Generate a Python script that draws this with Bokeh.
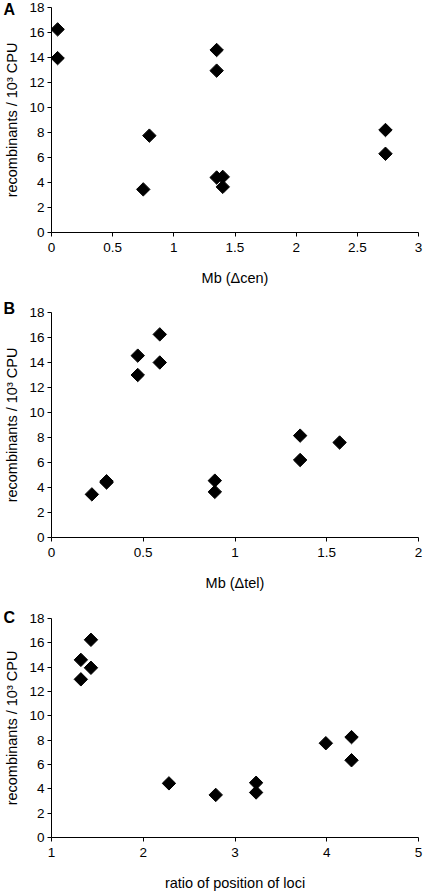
import numpy as np
from bokeh.plotting import figure
from bokeh.layouts import column
from bokeh.models import Range1d, FixedTicker, Title
from bokeh.embed import file_html
from bokeh.resources import INLINE

# ---- data ----
a_x = [0.05, 0.05, 1.35, 1.35, 0.80, 0.75, 1.35, 1.40, 1.40, 2.73, 2.73]
a_y = [16.25, 13.95, 14.6, 12.95, 7.75, 3.45, 4.4, 4.45, 3.65, 8.2, 6.3]

b_x = [0.22, 0.30, 0.30, 0.47, 0.47, 0.59, 0.59, 0.89, 0.89, 1.355, 1.355, 1.57]
b_y = [3.45, 4.4, 4.5, 14.55, 13.0, 16.25, 14.0, 4.55, 3.65, 8.15, 6.2, 7.6]

c_x = [1.32, 1.43, 1.43, 1.32, 2.28, 2.79, 3.23, 3.23, 3.99, 4.27, 4.27]
c_y = [14.6, 16.25, 13.95, 13.0, 4.45, 3.5, 4.5, 3.7, 7.75, 8.25, 6.35]

y_ticks = [0, 2, 4, 6, 8, 10, 12, 14, 16, 18]
a_ticks = [0, 0.5, 1, 1.5, 2, 2.5, 3]
a_tick_labels = ["0", "0.5", "1", "1.5", "2", "2.5", "3"]
b_ticks = [0, 0.5, 1, 1.5, 2]
b_tick_labels = ["0", "0.5", "1", "1.5", "2"]
c_ticks = [1, 2, 3, 4, 5]
c_tick_labels = ["1", "2", "3", "4", "5"]

y_label = "recombinants / 10\u00b3 CPU"
FONT = "Liberation Sans"

FRAME_H = 225
BORDER_L = 51
BORDER_R = 6
WIDTH = 424


def panel(xs, ys, xr, xticks, xlabels, xlabel, letter, top, bottom, standoff):
    p = figure(width=WIDTH, height=top + FRAME_H + bottom,
               output_backend="svg", toolbar_location=None,
               x_range=Range1d(*xr), y_range=Range1d(0, 18),
               min_border_left=BORDER_L, min_border_right=BORDER_R,
               min_border_top=top, min_border_bottom=bottom)
    p.outline_line_color = None
    p.grid.visible = False
    p.background_fill_color = "white"
    p.border_fill_color = "white"
    for ax in (p.xaxis[0], p.yaxis[0]):
        ax.axis_line_color = "black"
        ax.axis_line_width = 1
        ax.major_tick_line_color = "black"
        ax.major_tick_out = 4
        ax.major_tick_in = 0
        ax.minor_tick_line_color = None
        ax.major_label_text_font = FONT
        ax.major_label_text_font_size = "13.5px"
        ax.major_label_text_color = "black"
        ax.axis_label_text_font = FONT
        ax.axis_label_text_font_size = "14.5px"
        ax.axis_label_text_font_style = "normal"
        ax.axis_label_text_color = "black"
    p.xaxis[0].ticker = FixedTicker(ticks=xticks)
    p.xaxis[0].major_label_overrides = {t: l for t, l in zip(xticks, xlabels)}
    p.xaxis[0].axis_label = xlabel
    p.xaxis[0].axis_label_standoff = 15
    p.xaxis[0].major_label_standoff = 6
    p.yaxis[0].ticker = FixedTicker(ticks=y_ticks)
    p.yaxis[0].axis_label = y_label
    p.yaxis[0].axis_label_standoff = 6
    p.yaxis[0].major_label_standoff = 3

    p.scatter(xs, ys, marker="square", angle=np.pi / 4, size=9.5,
              fill_color="black", line_color="black")

    p.add_layout(Title(text=letter, text_font=FONT, text_font_size="16px",
                       text_font_style="bold", text_color="black",
                       align="left", offset=-48, standoff=standoff), "above")
    return p


pa = panel(a_x, a_y, (0, 3), a_ticks, a_tick_labels, "Mb (\u0394cen)", "A", 7, 65, -20)
pb = panel(b_x, b_y, (0, 2), b_ticks, b_tick_labels, "Mb (\u0394tel)", "B", 15, 66, -8)
pc = panel(c_x, c_y, (1, 5), c_ticks, c_tick_labels, "ratio of position of loci", "C", 15, 50, -15)

layout = column(pa, pb, pc)
open("out.html", "w").write(file_html(layout, INLINE))
